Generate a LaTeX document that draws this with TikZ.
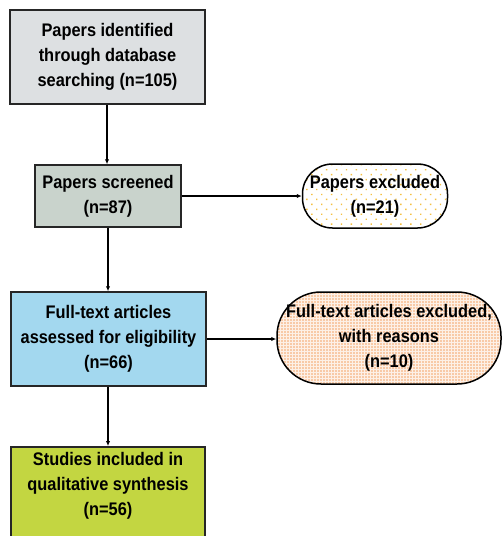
\documentclass[tikz,border=0pt]{standalone}
\usepackage{fontspec}
\setmainfont{Liberation Sans}[FakeStretch=0.9]
\usetikzlibrary{arrows.meta,patterns.meta}
\definecolor{cgrey}{HTML}{DDE0E2}
\definecolor{cgreen}{HTML}{C9D3CC}
\definecolor{cblue}{HTML}{A3D8EF}
\definecolor{clime}{HTML}{C3D641}
\definecolor{cyel}{HTML}{F5C040}
\definecolor{corange}{HTML}{F4A468}
\definecolor{cpeach}{HTML}{FDF0E6}
\begin{document}
\begin{tikzpicture}[x=1pt,y=-1pt,
  every node/.style={font=\fontsize{18.2}{25}\selectfont\bfseries, align=center, inner sep=0pt},
  box/.style={draw=black!85, line width=1.5pt},
  pill/.style={draw=black, line width=1.5pt},
  conn/.style={line width=1.8pt, -{Latex[length=5pt,width=4.5pt]}}]
\useasboundingbox (0,0) rectangle (502,536);
\clip (0,0) rectangle (502,536);
\node[box, fill=cgrey, minimum width=195pt, minimum height=94pt] (b1) at (107.5,57)
  {Papers identified\\through database\\searching (n=105)};
\node[box, fill=cgreen, minimum width=146pt, minimum height=62pt] (b2) at (108,196)
  {Papers screened\\(n=87)};
\node[pill, rounded corners=30pt, minimum width=145pt, minimum height=64pt,
  preaction={fill=white}, pattern={Dots[radius=1pt,distance=7pt,angle=45]}, pattern color=cyel] (e1) at (375,196) {};
\node (e1t) at (e1) {Papers excluded\\(n=21)};
\node[box, fill=cblue, minimum width=195pt, minimum height=94pt] (b3) at (108.5,339)
  {Full-text articles\\assessed for eligibility\\(n=66)};
\node[pill, rounded corners=44pt, minimum width=224pt, minimum height=92pt,
  preaction={fill=cpeach}, pattern={Dots[radius=0.8pt,distance=3pt]}, pattern color=corange] (e2) at (389,338) {};
\node (e2t) at (e2) {Full-text articles excluded,\\with reasons\\(n=10)};
\node[box, fill=clime, minimum width=194pt, minimum height=130pt, anchor=north] (b4) at (108,446) {};
\node (b4t) at (108,486) {Studies included in\\qualitative synthesis\\(n=56)};
\draw[conn] (b1.south -| 107,0) -- (b2.north -| 107,0);
\draw[conn] (b2.south) -- (b3.north -| b2.south);
\draw[conn] (b3.south -| 108,0) -- (b4.north);
\draw[conn] (b2.east) -- (e1.west |- b2.east);
\draw[conn] (b3.east) -- (e2.west |- b3.east);
\end{tikzpicture}
\end{document}
